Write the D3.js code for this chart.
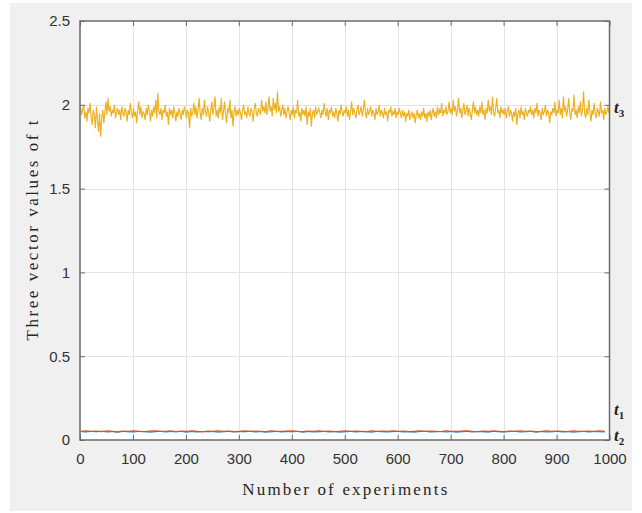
<!DOCTYPE html>
<html>
<head>
<meta charset="utf-8">
<script src="https://cdn.jsdelivr.net/npm/d3@7"></script>
<style>
  body { margin: 0; background: #fff; }
  svg { display: block; }
</style>
</head>
<body>
<svg id="chart" width="642" height="513"></svg>
<script>
const xTicks = [0, 100, 200, 300, 400, 500, 600, 700, 800, 900, 1000];
const yTicks = [0, 0.5, 1, 1.5, 2, 2.5];
const yTickLabels = ["0", "0.5", "1", "1.5", "2", "2.5"];

const t3 = [
  1.99,1.94,1.97,2.00,1.92,1.96,1.90,1.98,1.95,2.01,1.93,1.88,1.97,1.94,1.86,1.99,1.91,1.84,1.95,1.81,1.92,1.97,1.89,1.96,2.02,
  1.94,2.04,1.96,1.99,1.93,1.97,1.95,2.00,1.92,1.96,1.98,1.94,1.97,1.91,1.99,1.95,1.93,1.98,1.96,1.90,1.97,1.94,2.01,1.95,1.92,
  1.98,1.93,1.96,1.89,1.97,2.02,1.94,1.99,1.92,1.96,1.95,1.91,1.98,1.94,2.00,1.96,1.90,1.97,1.93,1.99,1.95,2.03,1.92,2.07,1.96,
  1.94,1.98,1.91,1.97,1.95,2.00,1.93,1.96,1.88,1.98,1.94,1.97,1.92,1.99,1.95,1.90,1.96,1.93,1.98,1.95,1.91,1.97,1.94,1.99,1.96,
  1.92,1.97,1.95,1.86,1.98,1.93,1.96,2.01,1.94,1.99,1.92,1.97,2.04,1.95,1.91,1.98,1.94,2.03,1.96,1.93,1.99,1.95,1.90,1.97,2.02,
  1.94,1.98,2.05,1.93,1.97,1.92,1.99,1.95,2.04,1.91,1.96,2.02,1.94,1.89,1.98,1.95,2.03,1.92,1.97,1.87,1.96,1.99,1.93,1.97,1.94,
  1.98,1.95,1.91,1.97,2.00,1.94,1.96,1.92,1.99,1.95,1.93,1.98,1.96,1.90,1.97,2.01,1.95,1.93,1.98,1.96,1.94,2.03,1.96,1.99,1.95,
  2.02,1.94,1.98,2.05,1.96,1.99,1.93,2.04,1.97,2.01,1.95,2.08,1.96,1.99,1.93,1.97,2.00,1.94,1.98,1.92,1.96,1.99,1.95,1.91,1.97,
  1.94,1.99,1.92,1.97,1.95,2.03,1.93,1.96,1.90,1.98,1.94,1.97,1.93,1.99,1.88,1.96,1.93,1.98,1.87,1.95,1.97,1.92,1.99,1.94,1.96,
  1.98,1.95,1.92,1.97,1.94,2.01,1.96,1.93,1.98,1.91,1.97,1.95,1.99,1.93,1.96,1.92,1.98,1.95,1.90,1.97,1.94,2.00,1.96,1.93,1.97,
  1.95,1.99,1.93,1.97,1.91,1.96,2.02,1.94,1.98,1.95,1.92,1.97,2.00,1.94,1.96,1.99,1.93,1.97,2.03,1.95,1.92,1.98,1.94,1.96,1.99,
  1.93,1.97,1.95,1.91,1.98,1.94,1.96,2.00,1.93,1.97,1.95,1.92,1.98,1.94,1.96,1.90,1.97,1.95,1.99,1.93,1.96,1.94,1.98,1.92,1.96,
  1.94,1.98,1.95,1.92,1.97,1.93,1.96,1.90,1.95,1.93,1.97,1.91,1.94,1.96,1.92,1.95,1.89,1.94,1.97,1.92,1.95,1.91,1.96,1.93,1.98,
  1.92,1.95,1.90,1.96,1.93,1.97,1.91,1.95,1.98,1.93,1.96,1.92,1.99,1.94,1.97,1.95,2.01,1.93,1.97,1.95,1.99,1.94,1.96,2.02,1.95,
  1.98,1.94,2.03,1.96,1.99,1.93,1.97,2.04,1.95,1.98,1.92,1.97,2.01,1.94,1.96,2.00,1.93,1.98,1.95,1.91,1.97,2.02,1.95,1.99,1.94,
  1.97,1.93,1.99,1.95,2.02,1.94,1.97,1.91,1.98,1.95,2.03,1.96,1.99,1.94,2.05,1.96,1.93,1.98,2.04,1.95,1.97,1.92,1.99,1.95,1.97,
  1.94,1.98,1.92,1.96,1.99,1.93,1.97,1.95,1.90,1.96,1.93,1.98,1.88,1.95,1.97,1.92,1.99,1.94,1.96,1.91,1.98,1.95,1.93,1.97,1.95,
  1.99,1.94,1.97,1.92,1.98,1.95,2.01,1.93,1.97,1.95,1.91,1.98,1.94,1.96,2.00,1.93,1.97,1.95,1.89,1.96,1.94,1.98,1.95,2.02,1.93,
  1.97,1.95,2.03,1.94,1.98,1.92,2.05,1.96,1.99,1.93,1.97,2.04,1.95,1.91,1.98,1.96,2.06,1.94,1.97,1.92,1.99,1.95,2.02,1.93,1.97,
  2.08,1.95,1.92,1.98,1.94,2.03,1.96,1.90,1.97,1.94,2.01,1.95,1.92,1.98,1.96,1.93,2.02,1.95,1.97,1.91,1.98,1.94,1.96,1.99,1.95
];

const t1 = [
  0.052,0.054,0.051,0.053,0.050,0.055,0.052,0.049,0.053,0.051,0.054,0.052,0.050,0.053,0.055,0.051,0.052,0.054,0.050,0.053,
  0.051,0.054,0.052,0.049,0.053,0.052,0.055,0.051,0.053,0.050,0.052,0.054,0.051,0.053,0.052,0.050,0.054,0.052,0.051,0.053,
  0.055,0.052,0.050,0.053,0.051,0.054,0.052,0.053,0.050,0.052,0.054,0.051,0.053,0.052,0.050,0.054,0.051,0.053,0.052,0.055,
  0.051,0.053,0.050,0.052,0.054,0.051,0.053,0.052,0.050,0.054,0.052,0.051,0.053,0.055,0.052,0.050,0.053,0.051,0.054,0.052,
  0.050,0.053,0.052,0.054,0.051,0.053,0.050,0.052,0.055,0.051,0.053,0.052,0.050,0.054,0.052,0.051,0.053,0.052,0.054,0.051
];

const t2 = [
  0.050,0.048,0.051,0.049,0.052,0.048,0.050,0.047,0.051,0.049,0.048,0.051,0.050,0.047,0.049,0.052,0.048,0.050,0.049,0.051,
  0.047,0.050,0.048,0.051,0.049,0.050,0.047,0.049,0.051,0.048,0.050,0.049,0.052,0.048,0.050,0.047,0.049,0.051,0.048,0.050,
  0.049,0.051,0.047,0.050,0.048,0.049,0.051,0.048,0.050,0.047,0.049,0.051,0.048,0.050,0.049,0.047,0.051,0.049,0.048,0.050,
  0.051,0.048,0.049,0.047,0.050,0.052,0.048,0.049,0.051,0.048,0.050,0.047,0.049,0.051,0.048,0.050,0.049,0.047,0.051,0.049,
  0.048,0.050,0.052,0.048,0.049,0.051,0.047,0.050,0.048,0.049,0.051,0.048,0.050,0.047,0.049,0.051,0.048,0.050,0.049,0.048
];

const svg = d3.select("#chart");

// figure background (MATLAB-ish grey)
svg.append("rect")
  .attr("x", 10).attr("y", 3)
  .attr("width", 622).attr("height", 508)
  .attr("fill", "#f0f0f0");

const mLeft = 80, mRight = 609.5, mTop = 21, mBottom = 440;

const x = d3.scaleLinear().domain([0, 1000]).range([mLeft, mRight]);
const y = d3.scaleLinear().domain([0, 2.5]).range([mBottom, mTop]);

svg.append("rect")
  .attr("x", mLeft).attr("y", mTop)
  .attr("width", mRight - mLeft).attr("height", mBottom - mTop)
  .attr("fill", "#fff");

// grid
const grid = svg.append("g").attr("stroke", "#e3e3e3").attr("stroke-width", 1);
grid.selectAll(".gx").data(xTicks.slice(1, -1)).enter().append("line")
  .attr("x1", d => Math.round(x(d)) + 0.5).attr("x2", d => Math.round(x(d)) + 0.5)
  .attr("y1", mTop).attr("y2", mBottom);
grid.selectAll(".gy").data(yTicks.slice(1, -1)).enter().append("line")
  .attr("y1", d => Math.round(y(d)) + 0.5).attr("y2", d => Math.round(y(d)) + 0.5)
  .attr("x1", mLeft).attr("x2", mRight);

// lines
const line = d3.line().x(d => x(d[0])).y(d => y(d[1]));
const t3pts = t3.map((v, i) => [1 + 2 * i, v]);
const t2pts = t2.map((v, i) => [1 + 10 * i, v]);
const t1pts = t1.map((v, i) => [1 + 10 * i, v]);

svg.append("path").datum(t2pts).attr("d", line)
  .attr("fill", "none").attr("stroke", "#0072bd").attr("stroke-width", 1);
svg.append("path").datum(t1pts).attr("d", line)
  .attr("fill", "none").attr("stroke", "#d95319").attr("stroke-width", 1.2);
svg.append("path").datum(t3pts).attr("d", line)
  .attr("fill", "none").attr("stroke", "#edb120").attr("stroke-width", 1.15);

// axes (ticks inward on all four sides)
const axisColor = "#6b6b6b";
const fontTick = "'Liberation Sans', Arial, sans-serif";

function styleAxis(g) {
  g.select(".domain").remove();
  g.selectAll(".tick line").attr("stroke", axisColor);
  g.selectAll(".tick text").attr("fill", "#333").attr("font-family", fontTick).attr("font-size", 15);
}

svg.append("g").attr("transform", `translate(0,${mBottom})`)
  .call(d3.axisBottom(x).tickValues(xTicks).tickSizeInner(-5).tickSizeOuter(0).tickPadding(13)
    .tickFormat(d3.format("d")))
  .call(styleAxis);
svg.append("g").attr("transform", `translate(0,${mTop})`)
  .call(d3.axisTop(x).tickValues(xTicks).tickSizeInner(-5).tickSizeOuter(0).tickFormat(""))
  .call(styleAxis);
svg.append("g").attr("transform", `translate(${mLeft},0)`)
  .call(d3.axisLeft(y).tickValues(yTicks).tickSizeInner(-5).tickSizeOuter(0).tickPadding(10)
    .tickFormat((d, i) => yTickLabels[i]))
  .call(styleAxis);
svg.append("g").attr("transform", `translate(${mRight},0)`)
  .call(d3.axisRight(y).tickValues(yTicks).tickSizeInner(-5).tickSizeOuter(0).tickFormat(""))
  .call(styleAxis);

// box
svg.append("rect")
  .attr("x", mLeft).attr("y", mTop)
  .attr("width", mRight - mLeft).attr("height", mBottom - mTop)
  .attr("fill", "none").attr("stroke", axisColor).attr("stroke-width", 1.5);

// axis titles
const fontTitle = "'Liberation Serif', 'DejaVu Serif', serif";
svg.append("text")
  .attr("x", (mLeft + mRight) / 2).attr("y", 495)
  .attr("text-anchor", "middle")
  .attr("font-family", fontTitle).attr("font-size", 17)
  .attr("fill", "#262626")
  .attr("textLength", 205).attr("lengthAdjust", "spacing")
  .text("Number of experiments");

svg.append("text")
  .attr("transform", `translate(38,${(mTop + mBottom) / 2}) rotate(-90)`)
  .attr("text-anchor", "middle")
  .attr("font-family", fontTitle).attr("font-size", 17)
  .attr("fill", "#262626")
  .attr("textLength", 220).attr("lengthAdjust", "spacing")
  .text("Three vector values of t");

// series labels on the right
const seriesLabels = [
  { name: "3", y: 108 },
  { name: "1", y: 410 },
  { name: "2", y: 436 }
];
seriesLabels.forEach(d => {
  const t = svg.append("text")
    .attr("x", 614).attr("y", d.y + 5)
    .attr("font-family", "'Liberation Serif', serif")
    .attr("font-style", "italic").attr("font-weight", "bold")
    .attr("font-size", 17).attr("fill", "#222");
  t.append("tspan").text("t");
  t.append("tspan").attr("dy", 4).attr("font-size", 11).attr("font-style", "normal").text(d.name);
});
</script>
</body>
</html>
